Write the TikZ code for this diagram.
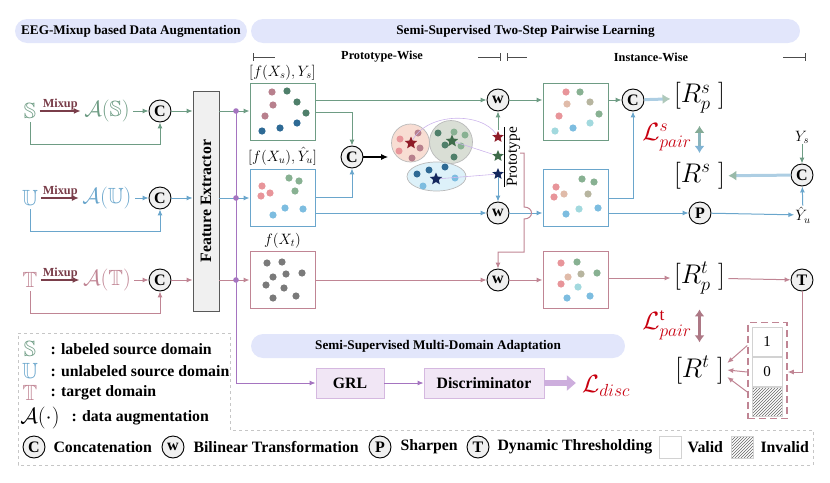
\RequirePackage{fix-cm}
\documentclass[tikz,border=0pt]{standalone}
\usepackage{amsmath,amssymb}
\usepackage{fontspec}
\setmainfont{Liberation Serif}
\usepackage{xcolor}
\usetikzlibrary{arrows.meta,positioning,shapes.geometric,patterns,calc}

\definecolor{sgreen}{HTML}{6E9C84}
\definecolor{ublue}{HTML}{6AA6CC}
\definecolor{tpink}{HTML}{C08594}
\definecolor{mixred}{HTML}{7A3E4A}
\definecolor{fpurple}{HTML}{A574C0}
\definecolor{discpurple}{HTML}{CDAEDD}
\definecolor{pillblue}{HTML}{E2E6FB}
\definecolor{lossred}{HTML}{C8000F}
\definecolor{modfill}{HTML}{F1E6F5}
\definecolor{moddraw}{HTML}{D5B8E0}
\definecolor{lavline}{HTML}{CDB6EC}
\definecolor{clred}{HTML}{F8DDD3}
\definecolor{clgreen}{HTML}{D9DED5}
\definecolor{clblue}{HTML}{DDF1F9}
\definecolor{dpink}{HTML}{B8808D}
\definecolor{dgreen}{HTML}{4F7F6A}
\definecolor{dblue}{HTML}{2E6A95}
\definecolor{lsalmon}{HTML}{E8959A}
\definecolor{lgreen}{HTML}{88B192}
\definecolor{lblue}{HTML}{7DBDE0}
\definecolor{ltan}{HTML}{E0BBA9}
\definecolor{lkhaki}{HTML}{B7B59F}
\definecolor{lcyan}{HTML}{A2D9DE}
\definecolor{dgray}{HTML}{7A7A7A}
\definecolor{starred}{HTML}{8E1B27}
\definecolor{stargreen}{HTML}{3E6B4A}
\definecolor{starblue}{HTML}{14285E}

\newcommand{\hdfont}{\fontsize{13.2}{15}\selectfont\bfseries}
\newcommand{\subfont}{\fontsize{12.3}{14}\selectfont\bfseries}
\newcommand{\lgfont}{\fontsize{15.8}{18}\selectfont\bfseries}
\newcommand{\bigmath}{\fontsize{22}{24}\selectfont}
\newcommand{\relfont}{\fontsize{27}{30}\selectfont}
\newcommand{\lossfont}{\fontsize{25}{27}\selectfont}
\newcommand{\lblfont}{\fontsize{15}{17}\selectfont}

\begin{document}
\begin{tikzpicture}[x=1pt,y=-1pt,
  conn/.style={line width=1pt,-{Latex[length=6pt,width=5pt]}},
  opnode/.style={circle,draw=black,line width=0.9pt,fill=gray!12,minimum size=22pt,inner sep=0pt,font=\fontsize{16}{16}\selectfont\bfseries},
  featbox/.style={draw=#1,line width=1pt,fill=white,minimum width=65pt,minimum height=57pt,inner sep=0pt},
  pill/.style={rounded corners=12pt,fill=pillblue,minimum height=24pt,inner sep=0pt},
  modbox/.style={draw=moddraw,fill=modfill,line width=0.8pt,minimum height=30pt,inner sep=0pt,font=\lgfont},
  cell/.style={draw=gray!35,fill=white,line width=0.8pt,minimum width=30pt,minimum height=29pt,inner sep=0pt,font=\fontsize{15}{15}\selectfont},
  hatchcell/.style={cell,pattern=north east lines,pattern color=gray!80!black},
  cstar/.style={star,star points=5,star point ratio=2.2,inner sep=0pt,minimum size=13pt,fill=#1},
  cluster/.style={draw=gray!55,line width=0.7pt,inner sep=0pt},
  lav/.style={draw=lavline,line width=0.6pt},
  brk/.style={draw=gray!60!black,line width=0.8pt},
  lgtxt/.style={font=\lgfont,anchor=west},
  loss/.style={font=\lossfont,text=lossred,inner sep=0pt},
  small/.style={font=\lblfont,inner sep=1pt},
]
\useasboundingbox (0,0) rectangle (830,482);

% section headers
\node[pill,minimum width=232pt,font=\hdfont] (hdaug) at (131,31) {EEG-Mixup based Data Augmentation};
\node[pill,minimum width=549pt,font=\hdfont] (hdpair) at (525.5,31) {Semi-Supervised Two-Step Pairwise Learning};
\node[font=\subfont] (protowise) at (382,57) {Prototype-Wise};
\node[font=\subfont] (instwise) at (651,57) {Instance-Wise};
\foreach \a/\b in {253/275,507/527}
  \draw[brk] (\a,53) -- (\a,61) (\a,57) -- (\b,57);
\foreach \a/\b in {478/500,783/805}
  \draw[brk] (\a,57) -- (\b,57) (\b,53) -- (\b,61);

% feature extractor
\node[draw=gray!70!black,fill=gray!12,line width=0.8pt,minimum width=26pt,minimum height=220pt,inner sep=0pt] (fe) at (206,201) {};
\node[rotate=90,font=\lgfont] (fetxt) at (fe.center) {Feature Extractor};
\coordinate (bus) at (236,0);

% feature boxes
\node[featbox=sgreen] (fS) at (282.5,112) {};
\node[featbox=ublue] (fU) at (282.5,197.5) {};
\node[featbox=tpink] (fT) at (282.5,280) {};
\node[small,above=2pt of fS] (fSlbl) {$[f(X_s),Y_s]$};
\node[small,above=2pt of fU] (fUlbl) {$[f(X_u),\hat{Y}_u]$};
\node[small,above=2pt of fT] (fTlbl) {$f(X_t)$};
\foreach \x/\y/\c in {272/92/dpink,273/105/dpink,265/116/dpink,287/91/dgreen,297/102/dgreen,306/113/dgreen,262/131/dblue,280/128/dblue,297/123/dblue,
    262/186/lsalmon,270/193/lsalmon,261/196/lsalmon,289/178/lgreen,299/181/lgreen,295/191/lgreen,273/215/lblue,285/208/lblue,303/209/lblue,
    267/263/dgray,282/262/dgray,273/277/dgray,286/274/dgray,302/273/dgray,266/285/dgray,284/288/dgray,296/296/dgray,273/298/dgray}
  \fill[\c] (\x,\y) circle (3.6pt);

% augmentation rows
\foreach \nm/\sym/\col/\y in {S/S/sgreen/111,U/U/ublue/198,T/T/tpink/280}{
  \node[text=\col,font=\bigmath] (src\nm) at (30,\y) {$\mathbb{\sym}$};
  \node[text=\col,font=\bigmath] (aug\nm) at (107,\y) {$\mathcal{A}(\mathbb{\sym})$};
  \node[opnode] (c\nm) at (160,\y) {C};
  \draw[line width=1.8pt,mixred,-{Latex[length=7pt,width=6pt]}] (src\nm.east) -- node[above=-3pt,font=\subfont,text=mixred] (mix\nm) {Mixup} (aug\nm.west);
  \draw[conn,\col] (aug\nm.east) -- (c\nm.west);
  \draw[conn,\col] (src\nm.south) |- ($(c\nm.south)+(0,22)$) -- (c\nm.south);
  \draw[conn,\col] (c\nm.east) -- (c\nm -| fe.west);
  \draw[conn,\col] (c\nm -| fe.east) -- (c\nm -| f\nm.west);
}
\foreach \nm in {S,U,T}
  \fill[fpurple] (bus |- c\nm) circle (2.8pt);

% prototype clustering
\node[opnode] (cP) at (352,157) {C};
\node[cluster,circle,fill=clred,minimum size=38pt] (clR) at (410.5,143) {};
\node[cluster,circle,fill=clgreen,minimum size=43pt] (clG) at (451,142) {};
\node[cluster,ellipse,fill=clblue,minimum width=59pt,minimum height=29pt] (clB) at (436.5,176.5) {};
\foreach \x/\y/\c in {418/133/dpink,400/139/lsalmon,399/151/lsalmon,420/148/dpink,412/158/dpink,
    438/133/dgreen,454/132/lgreen,465/135/lgreen,445/145/dgreen,461/146/lgreen,454/157/dgreen,
    417/174/dblue,429/170/dblue,445/167/dblue,423/186/lblue,455/178/lblue}
  \fill[\c] (\x,\y) circle (3.5pt);
\node[cstar=starred] (starR) at (411,143) {};
\node[cstar=stargreen] (starG) at (452,141) {};
\node[cstar=starblue] (starB) at (436,179) {};
\node[cstar=starred,minimum size=12pt] (protoR) at (498,137) {};
\node[cstar=stargreen,minimum size=12pt] (protoG) at (498,156) {};
\node[cstar=starblue,minimum size=12pt] (protoB) at (498,174) {};
\draw[lav] (starR) .. controls (428,112) and (482,112) .. (protoR);
\draw[lav] (starG) -- (protoG);
\draw[lav] (starB) -- (protoB);
\node[rotate=90,font=\fontsize{15.4}{17}\selectfont,inner sep=1pt] (protolbl) at (512,157) {$\overline{\mbox{Prototype}}$};

% bilinear transformations
\node[opnode] (wS) at (498,100) {w};
\node[opnode] (wU) at (498,213) {w};
\node[opnode] (wT) at (498,280) {w};
\draw[conn,sgreen] (fS.east |- wS) -- (wS);
\draw[conn,sgreen] (fS.east) -| (cP.north);
\draw[conn,ublue] (fU.east) -| (cP.south);
\draw[conn,ublue] (fU.east |- wU) -- (wU);
\draw[conn,tpink] (fT.east |- wT) -- (wT);
\draw[line width=1.2pt,-{Latex[length=7pt,width=6pt]},shorten >=3pt] (cP) -- (cP -| clR.west);
\draw[conn,sgreen] (protoR.north) -- (wS.south);
\draw[conn,ublue] (protoB.south) -- (wU.north);

% instance boxes
\node[featbox=sgreen] (iS) at (575.5,111.5) {};
\node[featbox=ublue] (iU) at (575.5,198) {};
\node[featbox=tpink] (iT) at (575.5,280) {};
\foreach \x/\y/\c in {566/92/lsalmon,580/92/lgreen,567/104/ltan,590/102/lkhaki,559/116/lsalmon,599/114/lgreen,555/131/lcyan,573/128/lblue,590/123/lcyan,
    556/187/lsalmon,554/197/lsalmon,564/194/ltan,582/179/lgreen,594/182/lgreen,588/194/lkhaki,579/209/lcyan,598/208/lblue,566/214/lblue,
    561/263/lsalmon,577/262/lgreen,568/277/ltan,581/274/lkhaki,597/273/lgreen,561/284/lsalmon,578/287/lcyan,567/298/lblue,590/296/lblue}
  \fill[\c] (\x,\y) circle (3.6pt);
\draw[conn,sgreen] (wS) -- (iS.west |- wS);
\draw[conn,ublue] (wU) -- (iU.west |- wU);
\draw[conn,tpink] (wT) -- (iT.west |- wT);

% prototype feed to target row (hops over the blue line)
\coordinate (protoOut) at (520,153);
\coordinate (hopA) at (524,207);
\coordinate (hopB) at (524,219);
\coordinate (turnT) at (524,252);
\draw[conn,tpink] (protoOut) -- (protoOut -| hopA) -- (hopA) .. controls +(10,0) and +(10,0) .. (hopB) -- (turnT) -| (wT.north);

% relation matrices
\node[opnode] (cR) at (633,100) {C};
\node[opnode] (pU) at (700,213) {P};
\node[opnode] (cY) at (802,175) {C};
\node[opnode] (thT) at (802,280) {T};
\node[font=\relfont] (Rps) at (699.5,98) {$[R^s_p\;]$};
\node[font=\relfont] (Rs) at (699.5,176) {$[R^s\;]$};
\node[font=\relfont] (Rpt) at (699.5,278) {$[R^t_p\;]$};
\node[font=\relfont] (Rt) at (699.5,370) {$[R^t\;]$};
\node[small] (ys) at (802,137) {$Y_s$};
\node[small] (yU) at (803,215) {$\hat{Y}_u$};
\node[loss] (Lps) at (667,137) {$\mathcal{L}^{s}_{pair}$};
\node[loss] (Lpt) at (667,325) {$\mathcal{L}^{\mathrm{t}}_{pair}$};

\draw[conn,sgreen] (iS.east |- cR) -- (cR);
\draw[conn,ublue] (iU.east) -| (cR.south);
\draw[conn,ublue] (iU.east |- pU) -- (pU);
\draw[conn,ublue] (pU) -- (yU);
\draw[conn,sgreen] (ys) -- (cY);
\draw[conn,ublue] (yU) -- (cY);
\draw[line width=3pt,draw=ublue!55,-{Latex[length=8pt,width=10pt,color=sgreen!55]}] (cR) -- (Rps);
\draw[line width=3pt,draw=ublue!55,-{Latex[length=8pt,width=10pt,color=sgreen!70]}] (cY) -- (Rs);
\draw[line width=3.5pt,draw=sgreen!45!ublue!80,{Latex[length=7pt,width=10pt,color=sgreen!85]}-{Latex[length=7pt,width=10pt,color=ublue!85]},shorten <=9pt,shorten >=6pt] (Rps.south) -- (Rs.north);

% target row thresholding
\node[draw=tpink,dash pattern=on 7pt off 4pt,line width=1.5pt,minimum width=39pt,minimum height=96pt,inner sep=0pt] (mask) at (767.5,370.5) {};
\node[cell] (cell1) at (767,341.5) {1};
\node[cell] (cell0) at (767,372) {0};
\node[hatchcell] (cellX) at (767,402) {};
\draw[conn,tpink] (iT.east |- Rpt) -- (Rpt);
\draw[conn,tpink] (Rpt) -- (thT);
\draw[conn,tpink] (thT) |- (mask.east |- cell0);
\draw[conn,tpink] ([yshift=-4pt]mask.west |- cell1) -- ([yshift=7pt]Rt.east);
\draw[conn,tpink] (mask.west |- cell0) -- (Rt.east);
\draw[conn,tpink] ([yshift=10pt]mask.west |- cellX) -- ([yshift=-7pt]Rt.east);
\draw[line width=3.5pt,draw=tpink!90!black,{Latex[length=7pt,width=10pt]}-{Latex[length=7pt,width=10pt]},shorten <=12pt,shorten >=10pt] (Rpt.south) -- (Rt.north);

% domain adaptation
\node[pill,minimum width=374pt,font=\hdfont] (hdmda) at (438,346) {Semi-Supervised Multi-Domain Adaptation};
\node[modbox,minimum width=68pt] (grl) at (350,383) {GRL};
\node[modbox,minimum width=120pt] (disc) at (484,383) {Discriminator};
\node[loss] (Ld) at (606,386) {$\mathcal{L}_{disc}$};
\draw[conn,fpurple] (bus |- cS) |- (grl.west);
\draw[conn,fpurple] (grl) -- (disc);
\draw[line width=6pt,draw=discpurple,-{Triangle[length=9pt,width=15pt]},shorten >=6pt] (disc.east) -- (Ld.west |- disc);

% legend
\draw[gray!45,dashed,line width=0.7pt] (18,333) -- (230,333) -- (230,430) -- (813,430) -- (813,465) -- (18,465) -- cycle;
\node[font=\bigmath,text=sgreen] (lgS) at (30,349) {$\mathbb{S}$};
\node[lgtxt] (lgStxt) at (47,349) {: labeled source domain};
\node[font=\bigmath,text=ublue] (lgU) at (30,371) {$\mathbb{U}$};
\node[lgtxt] (lgUtxt) at (47,371) {: unlabeled source domain};
\node[font=\bigmath,text=tpink] (lgT) at (30,393) {$\mathbb{T}$};
\node[lgtxt] (lgTtxt) at (47,393) {: target domain};
\node[font=\bigmath] (lgA) at (40,418) {$\mathcal{A}(\cdot)$};
\node[lgtxt] (lgAtxt) at (68,418) {: data augmentation};
\node[opnode] (lgC) at (34,447) {C};
\node[lgtxt] (lgCtxt) at (50,447) {Concatenation};
\node[opnode] (lgW) at (173,447) {w};
\node[lgtxt] (lgWtxt) at (190,447) {Bilinear Transformation};
\node[opnode] (lgP) at (380,447) {P};
\node[lgtxt] (lgPtxt) at (397,447) {Sharpen};
\node[opnode] (lgTh) at (478,447) {T};
\node[lgtxt] (lgThtxt) at (494,447) {Dynamic Thresholding};
\node[cell,minimum size=22pt] (lgV) at (670,447) {};
\node[lgtxt] (lgVtxt) at (684,447) {Valid};
\node[hatchcell,minimum size=22pt] (lgI) at (742,447) {};
\node[lgtxt] (lgItxt) at (757,447) {Invalid};
\end{tikzpicture}
\end{document}
